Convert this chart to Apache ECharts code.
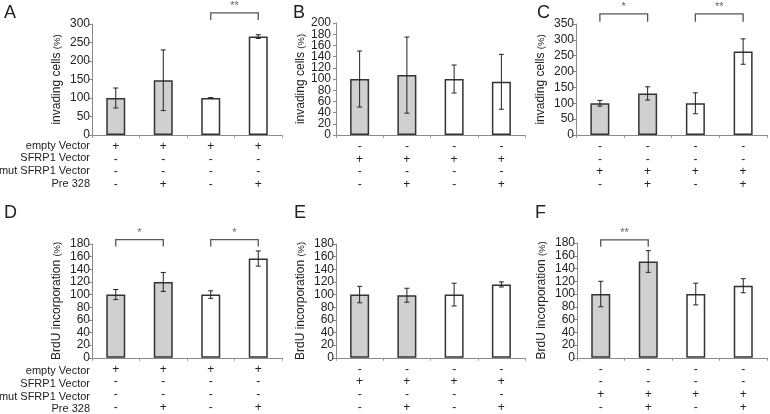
<!DOCTYPE html>
<html><head><meta charset="utf-8">
<script src="https://cdn.jsdelivr.net/npm/echarts@6/dist/echarts.min.js"></script>
<style>html,body{margin:0;padding:0;background:#fff}#c{width:770px;height:414px}</style>
</head><body><div id="c"></div>
<script>
// ---- data ----
const rowLabels = ['empty Vector', 'SFRP1 Vector', 'mut SFRP1 Vector', 'Pre 328'];
// +/- marks for each row (top to bottom), four columns per panel
const marksAD = [['+','+','+','+'], ['-','-','-','-'], ['-','-','-','-'], ['-','+','-','+']];
const marksBE = [['-','-','-','-'], ['+','+','+','+'], ['-','-','-','-'], ['-','+','-','+']];
const marksCF = [['-','-','-','-'], ['-','-','-','-'], ['+','+','+','+'], ['-','+','-','+']];

const valA = [100, 148, 100, 266]; const errA = [27, 82, 1, 5];
const valB = [100, 107, 100, 95];  const errB = [50, 68, 25, 49];
const valC = [100, 131, 100, 263]; const errC = [9, 21, 33, 40];
const valD = [100, 120, 100, 157]; const errD = [8, 15, 6, 12];
const valE = [100, 99, 100, 116];  const errE = [13, 11, 18, 4];
const valF = [100, 151, 100, 113]; const errF = [20, 17, 17, 11];

// tick labels of panel B (densely packed; drawn at the axis' own tick positions)
const yTicksB = [0, 20, 40, 60, 80, 100, 120, 140, 160, 180, 200];

// brackets: [fromIndex, toIndex, level, dropTo]
const brA = [[2, 3, 330, 311]]; const brAText = ['**'];
const brB = []; const brBText = [];
const brC = [[0, 1, 382, 357], [2, 3, 382, 357]]; const brCText = ['*', '**'];
const brD = [[0, 1, 187, 176], [2, 3, 187, 176]]; const brDText = ['*', '*'];
const brE = []; const brEText = [];
const brF = [[0, 1, 185, 174]]; const brFText = ['**'];

const yMax = [300, 200, 350, 180, 180, 180];
const yStep = [50, 20, 50, 20, 20, 20];
const yName = ['invading cells', 'invading cells', 'invading cells', 'BrdU incorporation', 'BrdU incorporation', 'BrdU incorporation'];
const panelLetters = ['A', 'B', 'C', 'D', 'E', 'F'];

// ---- layout ----
const FONT = 'Liberation Sans';
const grids = [
  {left: 92, top: 24, width: 190, height: 111},
  {left: 336, top: 23, width: 189, height: 112},
  {left: 576, top: 24, width: 191, height: 111},
  {left: 92, top: 244, width: 190, height: 117},
  {left: 336, top: 244, width: 189, height: 117},
  {left: 577, top: 243, width: 190, height: 117}
];
const panels = [
  {v: valA, e: errA, m: marksAD, br: brA, bt: brAText},
  {v: valB, e: errB, m: marksBE, br: brB, bt: brBText, manualTicks: yTicksB},
  {v: valC, e: errC, m: marksCF, br: brC, bt: brCText},
  {v: valD, e: errD, m: marksAD, br: brD, bt: brDText},
  {v: valE, e: errE, m: marksBE, br: brE, bt: brEText},
  {v: valF, e: errF, m: marksCF, br: brF, bt: brFText}
];

const xAxes = [], yAxes = [], series = [];
panels.forEach((p, k) => {
  const cats = p.v.map((_, i) => p.m.map(r => r[i]).join('\n'));
  xAxes.push({
    type: 'category', gridIndex: k, data: cats,
    axisLine: {lineStyle: {color: '#8a8a8a', width: 1}},
    axisTick: {show: true, length: 3, lineStyle: {color: '#9a9a9a'}},
    axisLabel: {color: '#222', fontFamily: FONT, fontSize: 12, lineHeight: 12.8, margin: 5, interval: 0, hideOverlap: false}
  });
  yAxes.push({
    type: 'value', gridIndex: k, min: 0, max: yMax[k], interval: yStep[k],
    name: '{a|' + yName[k] + '} {b|(%)}', nameLocation: 'middle', nameRotate: 90, nameGap: 29,
    nameTextStyle: {rich: {a: {fontFamily: FONT, fontSize: 12, color: '#222'}, b: {fontFamily: FONT, fontSize: 9.5, color: '#222'}}},
    splitLine: {show: false},
    axisLine: {show: true, lineStyle: {color: '#8a8a8a', width: 1}},
    axisTick: {show: true, length: 3, lineStyle: {color: '#8a8a8a'}},
    axisLabel: {show: !p.manualTicks, color: '#222', fontFamily: FONT, fontSize: 12, margin: 2, showMinLabel: true, showMaxLabel: true, hideOverlap: false}
  });
  series.push({
    type: 'bar', xAxisIndex: k, yAxisIndex: k, barWidth: 19, silent: true,
    data: p.v.map((v, i) => ({value: v, itemStyle: {color: i < 2 ? '#d0d0d0' : '#ffffff', borderColor: '#333', borderWidth: 1.5}}))
  });
  series.push({
    type: 'custom', xAxisIndex: k, yAxisIndex: k, silent: true, clip: false, z: 5,
    data: p.v.map((v, i) => [i, v, p.e[i]]),
    renderItem: function (params, api) {
      const x = api.value(0), v = api.value(1), e = api.value(2);
      const t = api.coord([x, v + e]), b = api.coord([x, v - e]);
      const cw = 2.5, st = {stroke: '#222', lineWidth: 1};
      return {type: 'group', children: [
        {type: 'line', shape: {x1: t[0], y1: t[1], x2: b[0], y2: b[1]}, style: st},
        {type: 'line', shape: {x1: t[0] - cw, y1: t[1], x2: t[0] + cw, y2: t[1]}, style: st},
        {type: 'line', shape: {x1: b[0] - cw, y1: b[1], x2: b[0] + cw, y2: b[1]}, style: st}
      ]};
    }
  });
  if (p.manualTicks) {
    series.push({
      type: 'custom', xAxisIndex: k, yAxisIndex: k, silent: true, clip: false, z: 4,
      data: p.manualTicks.map(t => [0, t]),
      renderItem: function (params, api) {
        const pt = api.coord([0, api.value(1)]);
        const band = api.size([1, 0])[0];
        return {type: 'text', style: {text: String(api.value(1)), x: pt[0] - band / 2 - 5, y: pt[1],
          align: 'right', verticalAlign: 'middle', fill: '#222', font: '12px ' + FONT}};
      }
    });
  }
  if (p.br.length) {
    const texts = p.bt;
    series.push({
      type: 'custom', xAxisIndex: k, yAxisIndex: k, silent: true, clip: false, z: 6,
      data: p.br,
      renderItem: function (params, api) {
        const a = api.coord([api.value(0), api.value(2)]);
        const b = api.coord([api.value(1), api.value(2)]);
        const d = api.coord([api.value(0), api.value(3)]);
        const st = {stroke: '#555', lineWidth: 1.3, fill: null};
        return {type: 'group', children: [
          {type: 'polyline', shape: {points: [[a[0], d[1]], [a[0], a[1]], [b[0], b[1]], [b[0], d[1]]]}, style: st},
          {type: 'text', style: {text: texts[params.dataIndex], x: (a[0] + b[0]) / 2, y: a[1] - 1,
            align: 'center', verticalAlign: 'bottom', fill: '#666', font: '11px ' + FONT}}
        ]};
      }
    });
  }
});

const graphic = [];
const letterPos = [[4, 4], [293, 4], [537, 4], [4, 204], [294, 204], [535, 204]];
panelLetters.forEach((L, i) => graphic.push({type: 'text', left: letterPos[i][0], top: letterPos[i][1],
  style: {text: L, fill: '#222', font: '18px ' + FONT}}));
const rowYTop = [145.5, 158, 171, 183.5];
const rowYBot = [371, 383.5, 396.5, 409];
rowLabels.forEach((t, i) => {
  graphic.push({type: 'text', x: 90, y: rowYTop[i], style: {text: t, align: 'right', verticalAlign: 'middle', fill: '#222', font: '11px ' + FONT}});
  graphic.push({type: 'text', x: 90, y: rowYBot[i], style: {text: t, align: 'right', verticalAlign: 'middle', fill: '#222', font: '11px ' + FONT}});
});

const chart = echarts.init(document.getElementById('c'));
chart.setOption({
  animation: false,
  backgroundColor: '#fff',
  grid: grids,
  xAxis: xAxes,
  yAxis: yAxes,
  series: series,
  graphic: graphic
});
</script></body></html>
